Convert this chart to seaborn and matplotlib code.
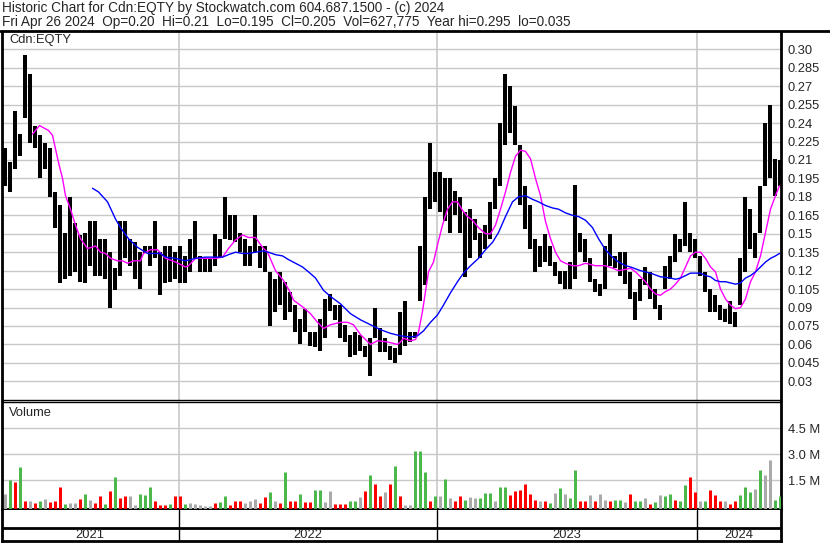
import numpy as np
import pandas as pd
import matplotlib
matplotlib.use("Agg")
import matplotlib.pyplot as plt
from matplotlib.lines import Line2D
import seaborn as sns

# weekly high / low (one week = 5 trading days, 1 px per day)
hi = [0.220, 0.208, 0.250, 0.231, 0.295, 0.280, 0.238, 0.230, 0.224, 0.220,
      0.184, 0.173, 0.151, 0.180, 0.159, 0.149, 0.151, 0.160, 0.160, 0.146,
      0.146, 0.135, 0.122, 0.160, 0.160, 0.146, 0.143, 0.135, 0.140, 0.140,
      0.160, 0.135, 0.140, 0.140, 0.135, 0.140, 0.132, 0.146, 0.160, 0.132,
      0.130, 0.130, 0.150, 0.146, 0.180, 0.165, 0.165, 0.151, 0.146, 0.140,
      0.165, 0.140, 0.140, 0.119, 0.113, 0.119, 0.111, 0.103, 0.092, 0.081,
      0.089, 0.070, 0.070, 0.081, 0.097, 0.101, 0.092, 0.092, 0.076, 0.068,
      0.070, 0.068, 0.059, 0.065, 0.090, 0.073, 0.065, 0.059, 0.057, 0.086,
      0.095, 0.070, 0.070, 0.140, 0.180, 0.224, 0.200, 0.200, 0.195, 0.195,
      0.185, 0.180, 0.168, 0.170, 0.162, 0.151, 0.157, 0.176, 0.195, 0.240,
      0.280, 0.270, 0.254, 0.222, 0.189, 0.173, 0.146, 0.140, 0.150, 0.140,
      0.127, 0.120, 0.120, 0.127, 0.190, 0.151, 0.146, 0.130, 0.113, 0.109,
      0.140, 0.150, 0.132, 0.135, 0.135, 0.119, 0.103, 0.113, 0.123, 0.119,
      0.105, 0.092, 0.124, 0.132, 0.150, 0.146, 0.176, 0.151, 0.146, 0.132,
      0.119, 0.105, 0.100, 0.092, 0.089, 0.095, 0.086, 0.130, 0.180, 0.170,
      0.151, 0.189, 0.240, 0.255, 0.211, 0.210]
lo = [0.189, 0.184, 0.203, 0.213, 0.244, 0.224, 0.220, 0.195, 0.203, 0.180,
      0.155, 0.110, 0.113, 0.116, 0.119, 0.111, 0.110, 0.124, 0.116, 0.116,
      0.113, 0.090, 0.104, 0.116, 0.130, 0.124, 0.113, 0.105, 0.134, 0.124,
      0.130, 0.100, 0.110, 0.111, 0.113, 0.110, 0.110, 0.119, 0.130, 0.119,
      0.119, 0.119, 0.124, 0.130, 0.146, 0.145, 0.143, 0.135, 0.124, 0.124,
      0.135, 0.122, 0.119, 0.075, 0.086, 0.092, 0.080, 0.086, 0.070, 0.060,
      0.070, 0.059, 0.058, 0.055, 0.065, 0.087, 0.080, 0.065, 0.062, 0.050,
      0.051, 0.055, 0.050, 0.034, 0.065, 0.054, 0.054, 0.047, 0.045, 0.051,
      0.059, 0.062, 0.065, 0.095, 0.108, 0.170, 0.176, 0.168, 0.160, 0.151,
      0.165, 0.151, 0.115, 0.130, 0.145, 0.130, 0.138, 0.146, 0.170, 0.189,
      0.222, 0.232, 0.222, 0.173, 0.154, 0.138, 0.119, 0.123, 0.127, 0.124,
      0.116, 0.109, 0.105, 0.105, 0.113, 0.135, 0.127, 0.111, 0.103, 0.099,
      0.105, 0.124, 0.122, 0.116, 0.109, 0.097, 0.080, 0.095, 0.108, 0.097,
      0.089, 0.080, 0.105, 0.113, 0.127, 0.135, 0.140, 0.135, 0.130, 0.116,
      0.103, 0.086, 0.086, 0.080, 0.078, 0.077, 0.074, 0.092, 0.119, 0.138,
      0.130, 0.151, 0.189, 0.195, 0.181, 0.189]

# biggest daily volume in each week (millions) and its colour: g up, r down, n unchanged
vol = [0.70, 1.50, 1.37, 2.23, 0.30, 0.27, 0.20, 0.30, 0.42, 0.25,
       0.30, 1.08, 0.12, 0.15, 0.20, 0.42, 0.71, 0.37, 0.17, 0.60,
       0.12, 0.85, 1.65, 0.46, 0.56, 0.56, 0.08, 0.71, 0.65, 1.08,
       0.27, 0.05, 0.05, 0.12, 0.56, 0.56, 0.10, 0.15, 0.10, 0.08,
       0.02, 0.02, 0.17, 0.23, 0.60, 0.08, 0.27, 0.27, 0.20, 0.30,
       0.40, 0.17, 0.50, 0.80, 0.30, 0.15, 1.94, 0.27, 0.30, 0.71,
       0.23, 0.23, 0.90, 0.90, 0.23, 0.85, 0.10, 0.10, 0.10, 0.27,
       0.27, 0.52, 0.85, 1.80, 1.30, 0.56, 0.81, 1.27, 2.29, 0.56,
       0.05, 0.05, 3.20, 3.15, 1.94, 0.27, 0.60, 0.60, 1.58, 0.46,
       0.30, 0.60, 0.37, 0.52, 0.46, 0.46, 0.73, 0.73, 0.30, 1.08,
       1.08, 0.65, 0.85, 0.94, 1.29, 0.70, 0.37, 0.30, 0.27, 0.17,
       0.75, 1.04, 0.71, 0.46, 2.10, 0.27, 0.27, 0.62, 0.30, 0.71,
       0.37, 0.27, 0.37, 0.37, 0.23, 0.69, 0.30, 0.30, 0.46, 0.10,
       0.23, 0.62, 0.56, 0.69, 0.35, 0.30, 1.19, 1.65, 0.81, 0.27,
       0.30, 0.90, 0.65, 0.30, 0.27, 0.10, 0.30, 0.62, 1.08, 0.79,
       1.00, 2.10, 1.77, 2.67, 0.37, 0.56]
vol_dir = list("ngrgrnrgnr" "rrgnnrgnrr" "grgrrnnggg" "rrrgrrgnnn"
               "nnrggrrrnn" "nrrgnrgrrg" "rrggnnrrrg" "gnrgrrnrgr"
               "nngggrgngn" "rrgnngggng" "grrrrrrnrg" "ngnggrrnrn"
               "nrggnrggnr" "gnggrggrrn" "grrrnrrggg" "ngnngg")

# moving averages (trading-day index, price)
fast_day = [30, 37, 46, 50, 56, 60, 63, 68, 73, 78, 85, 93, 98, 103, 108, 115, 120, 125,
            131, 138, 141, 148, 155, 163, 173, 183, 186, 193, 203, 213, 220, 226, 233,
            240, 246, 253, 260, 265, 273, 281, 288, 291, 296, 301, 308, 315, 321, 328,
            338, 345, 351, 358, 368, 375, 385, 395, 398, 401, 408, 413, 416, 420, 423,
            426, 431, 435, 440, 445, 450, 455, 460, 465, 470, 476, 483, 488, 493, 498,
            503, 508, 513, 518, 523, 528, 533, 538, 543, 548, 553, 558, 563, 570, 576,
            583, 593, 603, 610, 616, 623, 628, 633, 638, 643, 648, 653, 658, 663, 668,
            673, 678, 683, 688, 693, 698, 703, 708, 713, 718, 723, 728, 733, 738, 743,
            748, 753, 758, 763, 768, 773, 777]
fast_val = [0.231, 0.238, 0.234, 0.230, 0.208, 0.195, 0.181, 0.170, 0.157, 0.146,
            0.138, 0.140, 0.135, 0.134, 0.130, 0.128, 0.128, 0.126, 0.128, 0.128,
            0.134, 0.137, 0.137, 0.130, 0.127, 0.123, 0.124, 0.130, 0.130, 0.130,
            0.131, 0.138, 0.145, 0.149, 0.147, 0.147, 0.139, 0.135, 0.120, 0.112,
            0.102, 0.096, 0.093, 0.090, 0.085, 0.078, 0.073, 0.076, 0.078, 0.078,
            0.076, 0.068, 0.060, 0.063, 0.062, 0.060, 0.062, 0.065, 0.063, 0.064,
            0.070, 0.087, 0.103, 0.119, 0.127, 0.141, 0.157, 0.170, 0.176, 0.176,
            0.169, 0.164, 0.161, 0.155, 0.150, 0.150, 0.157, 0.170, 0.184, 0.200,
            0.213, 0.218, 0.217, 0.211, 0.195, 0.181, 0.160, 0.146, 0.135, 0.128,
            0.126, 0.124, 0.124, 0.126, 0.124, 0.124, 0.122, 0.120, 0.121, 0.122,
            0.119, 0.115, 0.111, 0.105, 0.101, 0.100, 0.103, 0.105, 0.109, 0.114,
            0.123, 0.132, 0.135, 0.135, 0.130, 0.123, 0.119, 0.105, 0.097, 0.092,
            0.089, 0.090, 0.097, 0.111, 0.119, 0.132, 0.151, 0.170, 0.181, 0.189]
slow_day = [90, 96, 105, 113, 118, 126, 135, 145, 158, 163, 173, 183, 193, 203, 213,
            220, 226, 233, 240, 246, 253, 260, 266, 273, 280, 286, 293, 300, 306, 313,
            321, 328, 338, 348, 358, 368, 378, 388, 398, 408, 415, 421, 428, 435, 441,
            448, 455, 461, 468, 476, 483, 490, 496, 503, 510, 516, 523, 530, 536, 543,
            550, 556, 563, 570, 576, 583, 590, 596, 603, 610, 616, 623, 628, 638, 648,
            658, 668, 673, 678, 683, 688, 693, 698, 703, 708, 713, 718, 723, 728, 733,
            738, 743, 748, 753, 758, 763, 768, 773, 777]
slow_val = [0.187, 0.184, 0.176, 0.162, 0.155, 0.146, 0.139, 0.134, 0.134, 0.131,
            0.130, 0.128, 0.130, 0.131, 0.131, 0.131, 0.133, 0.135, 0.134, 0.134,
            0.135, 0.136, 0.135, 0.133, 0.132, 0.129, 0.126, 0.123, 0.119, 0.114,
            0.104, 0.099, 0.093, 0.085, 0.080, 0.076, 0.072, 0.069, 0.067, 0.066,
            0.067, 0.071, 0.078, 0.084, 0.092, 0.102, 0.111, 0.118, 0.124, 0.130,
            0.137, 0.143, 0.151, 0.164, 0.176, 0.180, 0.181, 0.178, 0.176, 0.173,
            0.171, 0.170, 0.167, 0.165, 0.164, 0.161, 0.155, 0.146, 0.137, 0.131,
            0.127, 0.124, 0.123, 0.120, 0.118, 0.115, 0.114, 0.113, 0.114, 0.116,
            0.118, 0.118, 0.118, 0.116, 0.115, 0.112, 0.111, 0.111, 0.110, 0.109,
            0.110, 0.114, 0.116, 0.119, 0.123, 0.127, 0.130, 0.132, 0.134]

price_ticks = [0.30, 0.285, 0.27, 0.255, 0.24, 0.225, 0.21, 0.195, 0.18, 0.165,
               0.15, 0.135, 0.12, 0.105, 0.09, 0.075, 0.06, 0.045, 0.03]
price_labels = ["0.30", "0.285", "0.27", "0.255", "0.24", "0.225", "0.21", "0.195", "0.18",
                "0.165", "0.15", "0.135", "0.12", "0.105", "0.09", "0.075", "0.06", "0.045", "0.03"]
vol_ticks = [1.5, 3.0, 4.5]
vol_labels = ["1.5 M", "3.0 M", "4.5 M"]
years = ["2021", "2022", "2023", "2024"]
year_start = [176, 434, 694]   # trading-day index of first session of each new year
n_days = 779

title1 = "Historic Chart for Cdn:EQTY by Stockwatch.com 604.687.1500 - (c) 2024"
title2 = "Fri Apr 26 2024  Op=0.20  Hi=0.21  Lo=0.195  Cl=0.205  Vol=627,775  Year hi=0.295  lo=0.035"

sns.set_style("white")
plt.rcParams["font.family"] = ["Liberation Sans", "DejaVu Sans"]
fs = 9.3

W, H = 830, 543
px = 72 / 100   # one pixel in points
def box(x0, y0, x1, y1):
    return [x0 / W, 1 - y1 / H, (x1 - x0) / W, (y1 - y0) / H]

fig = plt.figure(figsize=(W / 100, H / 100), dpi=100)
ax = fig.add_axes(box(2, 32, 781, 400))
axv = fig.add_axes(box(2, 402, 781, 509))
axd = fig.add_axes(box(2, 510, 781, 541))

weeks = np.arange(len(hi)) * 5 + 2
grid_c = "#c8c8c8"

# price panel
ax.vlines(weeks, lo, hi, color="black", lw=4 * px, zorder=3)
ma = pd.concat([pd.DataFrame({"day": fast_day, "price": fast_val, "line": "fast"}),
                pd.DataFrame({"day": slow_day, "price": slow_val, "line": "slow"})])
sns.lineplot(data=ma, x="day", y="price", hue="line", palette={"fast": "#ff00ff", "slow": "#0000ff"},
             estimator=None, sort=False, legend=False, linewidth=1.0, ax=ax, zorder=4)
ax.set_xlim(-0.5, n_days - 0.5)
ax.set_ylim(0.0148, 0.3141)
ax.yaxis.tick_right()
ax.set_yticks(price_ticks, price_labels)
ax.set_xticks([])
ax.grid(axis="y", color=grid_c, lw=1)
for d in year_start:
    ax.axvline(d, color=grid_c, lw=1.2, zorder=0)
ax.tick_params(axis="y", length=0, pad=5, labelsize=fs)
ax.set_xlabel("")
ax.set_ylabel("")
ax.text(7 / 779, 1 - 8 / 368, "Cdn:EQTY", transform=ax.transAxes, va="center", ha="left", fontsize=fs)

# volume panel
cmap = {"g": "#4cb84c", "r": "#ff0000", "n": "#aaaaaa"}
vfloor = -0.17
axv.vlines(weeks, vfloor, vol, colors=[cmap[c] for c in vol_dir], lw=3 * px, zorder=3)
axv.set_xlim(-0.5, n_days - 0.5)
axv.set_ylim(vfloor, 6.0)
axv.yaxis.tick_right()
axv.set_yticks(vol_ticks, vol_labels)
axv.set_xticks([])
axv.grid(axis="y", color=grid_c, lw=1)
for d in year_start:
    axv.axvline(d, color=grid_c, lw=1.2, zorder=0)
axv.tick_params(axis="y", length=0, pad=5, labelsize=fs)
axv.text(7 / 779, 1 - 11 / 107, "Volume", transform=axv.transAxes, va="center", ha="left", fontsize=fs)

# date strip
axd.set_xlim(-0.5, n_days - 0.5)
axd.set_ylim(0, 31)
axd.set_xticks([])
axd.set_yticks([])
axd.axhline(13.5, color="black", lw=2)
for d in year_start:
    axd.axvline(d, color="black", lw=1)
edges = [-0.5] + year_start + [n_days - 0.5]
for i, y in enumerate(years):
    axd.text((edges[i] + edges[i + 1]) / 2, 6.5, y, ha="center", va="center", fontsize=fs)

for a in (ax, axv, axd):
    for s in a.spines.values():
        s.set_color("black")
        s.set_linewidth(1)
    a.spines["left"].set_linewidth(2)
    a.spines["right"].set_linewidth(2)
ax.spines["top"].set_visible(False)
axv.spines["bottom"].set_linewidth(2)
axd.spines["top"].set_visible(False)
axd.spines["bottom"].set_linewidth(2)

fig.add_artist(Line2D([0, 1], [1 - 30.5 / H, 1 - 30.5 / H], color="black", lw=2,
                      transform=fig.transFigure))
fig.text(2 / W, 1 - 8 / H, title1, ha="left", va="center", fontsize=9.8)
fig.text(2 / W, 1 - 22 / H, title2, ha="left", va="center", fontsize=9.8)

fig.savefig("out.png", dpi=100)
